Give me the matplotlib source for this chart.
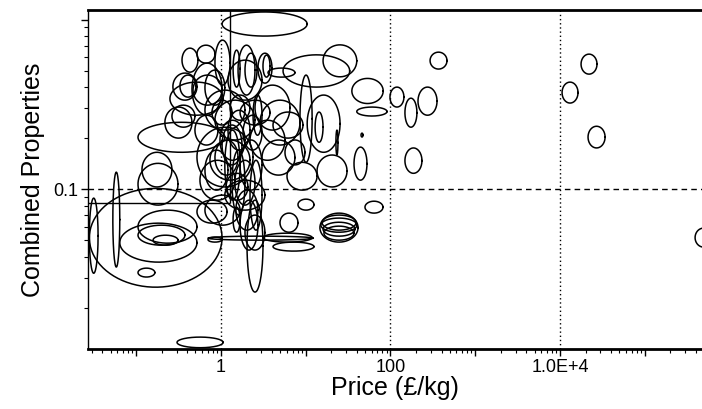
import numpy as np
import matplotlib
matplotlib.use("Agg")
import matplotlib.pyplot as plt
from matplotlib.ticker import FixedLocator, LogLocator, NullFormatter, FixedFormatter

plt.rcParams['font.family'] = ['Liberation Sans', 'DejaVu Sans']

# Material property ranges (price in GBP/kg, combined property)
price_lo = [1.03, 5.4, 16, 35, 40, 293, 98.6, 148, 211, 37.1, 44.9, 148, 17700, 10570, 21400,
            50, 392000, 14.7, 15.6, 16.0, 4.97, 8.1, 4.11, 3.13, 2.03, 0.703, 0.028, 0.064, 0.105,
            0.105, 0.158, 0.105, 0.053, 0.028, 0.303, 0.105, 0.105, 0.218, 0.117, 0.347, 0.521,
            0.271, 0.328, 0.25, 0.455, 0.468, 0.264, 0.493, 2.73, 3.59, 8.55, 4.11, 10.4, 12.9,
            22.7, 6.01, 13.6, 1.39, 1.92, 3.13, 1.21, 0.647, 0.849, 0.521, 0.741, 0.973, 1.11,
            1.35, 0.565, 1.68, 2.2, 2.52, 2.89, 3.05, 5.69, 1.11, 0.647, 1.5, 1.92, 1.28, 0.647,
            0.783, 1.68, 2.39, 0.703, 0.521, 1.39,
            1.21, 1.03, 1.46, 1.68, 1.15, 0.849, 1.82, 0.647, 2.2, 15.1, 16.4, 1.59, 0.849]
price_hi = [10.4, 33, 40, 82, 91, 464, 144, 205, 354, 52.8, 47.4, 235, 27300, 16300, 34000,
            81.6, 621000, 41.4, 39.2, 38.1, 8.1, 12.5, 12.5, 11.9, 3.13, 12.2, 1.03, 0.521, 0.521,
            0.376, 0.311, 0.166, 0.064, 0.0355, 1.06, 0.311, 1.11, 0.455, 0.264, 0.535, 0.849,
            0.521, 0.507, 1.06, 1.03, 1.03, 0.493, 0.922, 4.0, 7.46, 11.9, 9.28, 25.4, 16.0,
            24.0, 13.6, 30.7, 1.68, 2.66, 3.79, 3.05, 1.92, 2.52, 2.39, 2.2, 1.92, 1.68,
            1.92, 1.46, 3.05, 5.69, 6.52, 8.55, 7.46, 9.8, 3.3, 1.68, 2.73, 3.3, 2.2, 1.11,
            1.35, 3.79, 3.05, 1.03, 1.18, 1.68,
            2.2, 1.77, 2.52, 2.73, 2.08, 1.59, 3.05, 1.21, 3.05, 40.2, 37.1, 2.52, 1.28]
prop_lo = [0.80, 0.40, 0.46, 0.32, 0.27, 0.511, 0.305, 0.232, 0.273, 0.113, 0.203, 0.124, 0.477,
           0.322, 0.175, 0.0722, 0.0455, 0.0487, 0.0573, 0.0528, 0.0557, 0.0752, 0.0431, 0.0487,
           0.0247, 0.05, 0.0264, 0.0371, 0.048, 0.0467, 0.0467, 0.0303, 0.0347, 0.0319, 0.0116,
           0.0805, 0.165, 0.2, 0.103, 0.49, 0.554, 0.335, 0.349, 0.273, 0.273, 0.313, 0.232,
           0.182, 0.422, 0.458, 0.144, 0.2, 0.165, 0.189, 0.159, 0.0987, 0.103, 0.40, 0.40,
           0.458, 0.335, 0.223, 0.195, 0.103, 0.113, 0.148, 0.0861, 0.0703, 0.0861, 0.0987,
           0.148, 0.223, 0.182, 0.121, 0.139, 0.0752, 0.0613, 0.0573, 0.0437, 0.255, 0.313,
           0.239, 0.239, 0.208, 0.0487, 0.063, 0.0557,
           0.170, 0.139, 0.0805, 0.0437, 0.0861, 0.121, 0.170, 0.0987, 0.0573, 0.0557, 0.050,
           0.359, 0.411]
prop_hi = [1.11, 0.62, 0.71, 0.45, 0.305, 0.643, 0.40, 0.344, 0.40, 0.177, 0.214, 0.175, 0.626,
           0.428, 0.235, 0.0849, 0.0589, 0.0722, 0.0703, 0.0638, 0.0722, 0.0873, 0.0487, 0.055,
           0.0861, 0.0528, 0.101, 0.063, 0.0752, 0.0613, 0.0535, 0.0342, 0.126, 0.0885, 0.0134,
           0.142, 0.248, 0.305, 0.165, 0.679, 0.707, 0.484, 0.471, 0.428, 0.554, 0.471, 0.313,
           0.273, 0.634, 0.518, 0.471, 0.285, 0.359, 0.285, 0.223, 0.144, 0.159, 0.661, 0.634,
           0.618, 0.577, 0.384, 0.335, 0.232, 0.195, 0.255, 0.223, 0.17, 0.148, 0.195,
           0.255, 0.411, 0.335, 0.195, 0.195, 0.113, 0.0922, 0.0987, 0.0703, 0.359, 0.504,
           0.335, 0.335, 0.359, 0.0521, 0.0861, 0.0783,
           0.292, 0.239, 0.148, 0.0861, 0.124, 0.195, 0.273, 0.170, 0.148, 0.0675, 0.0605,
           0.707, 0.757]

# axis setup values
x_limits = (0.027, 4.73e5)
y_limits = (0.0114, 1.14)
x_major = [0.01, 0.1, 1, 10, 100, 1000, 1e4, 1e5]
x_labels = ['', '', '1', '', '100', '', '1.0E+4', '']
y_major = [0.01, 0.1, 1]
y_labels = ['', '0.1', '']
x_grid = [1, 100, 1e4]
y_grid = [0.1]
box_price = 1.28
box_prop = 0.0827

fig = plt.figure(figsize=(7.02, 4.09), dpi=100)
ax = fig.add_axes([88/702, 1-349/409, 614/702, 339/409])
ax.set_xscale('log')
ax.set_yscale('log')

t = np.linspace(0, 2*np.pi, 160)
for xl, xh, yl, yh in zip(price_lo, price_hi, prop_lo, prop_hi):
    cx = (np.log10(xl) + np.log10(xh)) / 2
    rx = (np.log10(xh) - np.log10(xl)) / 2
    cy = (np.log10(yl) + np.log10(yh)) / 2
    ry = (np.log10(yh) - np.log10(yl)) / 2
    ax.plot(10**(cx + rx*np.cos(t)), 10**(cy + ry*np.sin(t)), color='black', lw=1.1)

for g in x_grid:
    ax.axvline(g, color='black', lw=1.0, ls=(0, (1, 2)))
for g in y_grid:
    ax.axhline(g, color='black', lw=1.0, ls=(0, (4, 3)))

ax.vlines(box_price, box_prop, y_limits[1], color='black', lw=1.0)
ax.hlines(box_prop, x_limits[0], box_price, color='black', lw=1.0)

ax.xaxis.set_major_locator(FixedLocator(x_major))
ax.xaxis.set_major_formatter(FixedFormatter(x_labels))
ax.xaxis.set_minor_locator(LogLocator(base=10, subs=np.arange(2, 10), numticks=20))
ax.xaxis.set_minor_formatter(NullFormatter())
ax.yaxis.set_major_locator(FixedLocator(y_major))
ax.yaxis.set_major_formatter(FixedFormatter(y_labels))
ax.yaxis.set_minor_locator(LogLocator(base=10, subs=np.arange(2, 10), numticks=20))
ax.yaxis.set_minor_formatter(NullFormatter())
ax.set_xlim(*x_limits)
ax.set_ylim(*y_limits)

ax.tick_params(axis='both', which='major', direction='out', length=5, width=1, labelsize=13, pad=2)
ax.tick_params(axis='both', which='minor', direction='out', length=3, width=0.8)

ax.spines['right'].set_visible(False)
ax.spines['top'].set_linewidth(2)
ax.spines['bottom'].set_linewidth(2)
ax.spines['left'].set_linewidth(1)

ax.set_xlabel('Price (£/kg)', fontsize=18, labelpad=0)
ax.set_ylabel('Combined Properties', fontsize=18, labelpad=6)

fig.savefig('out.png', dpi=100)
